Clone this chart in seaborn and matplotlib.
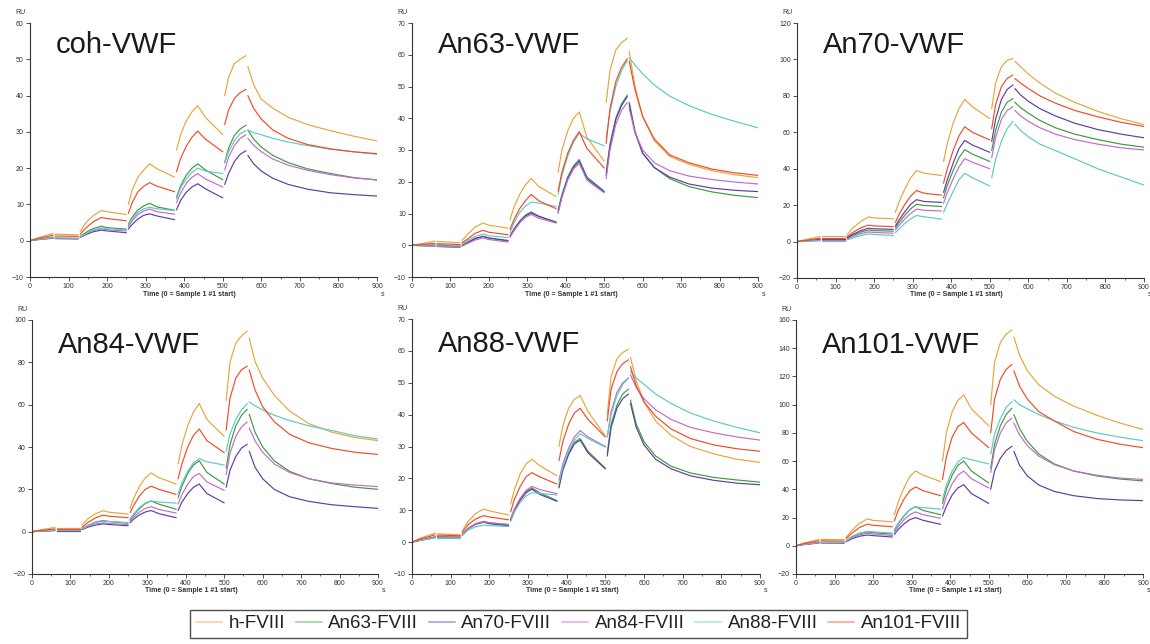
import numpy as np
import pandas as pd
import matplotlib
matplotlib.use("Agg")
import matplotlib.pyplot as plt
from matplotlib.lines import Line2D
from matplotlib.ticker import MultipleLocator
import seaborn as sns

# ---------------- data ----------------
T = [0, 20, 60, 65, 125, 130, 145, 165, 185, 200, 250, 255, 265, 280, 295, 310, 330, 375,
     380, 390, 405, 420, 435, 455, 500, 505, 515, 530, 545, 560,
     565, 580, 600, 630, 670, 720, 780, 840, 900]
SEG_STARTS = [65, 130, 255, 380, 505, 565]

SERIES = ["h-FVIII", "An63-FVIII", "An70-FVIII", "An84-FVIII", "An88-FVIII", "An101-FVIII"]
COLORS = ["#E9A53C", "#3E9B3E", "#5B3DA6", "#C46BC9", "#5FC9C3", "#F24B2A"]

PANELS = ["coh-VWF", "An63-VWF", "An70-VWF", "An84-VWF", "An88-VWF", "An101-VWF"]
YLIMS = [(-10, 60), (-10, 70), (-20, 120), (-20, 100), (-10, 70), (-20, 160)]
YSTEPS = [10, 10, 20, 20, 10, 20]

# coh-VWF
coh_h = [0, 0.8, 2.0, 1.8, 1.6, 2.5, 5, 7, 8.3, 8.0, 7.2, 10, 14, 17.5, 19.5, 21.2, 19.8, 17.5,
         25, 29, 33, 35.5, 37.2, 34, 29.2, 40, 45, 48.8, 50, 51, 48, 43, 39, 36.5, 34, 32, 30.3, 28.8, 27.5]
coh_63 = [0, 0.4, 1.0, 0.8, 0.8, 1.2, 2.3, 3.4, 4, 3.6, 3.2, 4.5, 6.5, 8.5, 9.6, 10.3, 9.3, 8.4,
          12, 15, 18, 20, 21.2, 19.5, 16.8, 21.5, 25.5, 29, 30.8, 31.8, 30.5, 28, 25.8, 23.5, 21.5, 19.8, 18.5, 17.4, 16.7]
coh_70 = [0, 0.3, 0.7, 0.6, 0.5, 0.9, 1.7, 2.5, 2.9, 2.7, 2.2, 3.2, 4.5, 6.0, 7.0, 7.4, 6.8, 5.8,
          8.5, 11, 13.3, 14.8, 15.7, 14.3, 11.8, 15.5, 18.5, 21.8, 23.8, 24.8, 23.5, 21.2, 19.2, 17.2, 15.5, 14.2, 13.2, 12.7, 12.3]
coh_84 = [0, 0.3, 0.8, 0.7, 0.6, 1.0, 2.0, 2.8, 3.3, 3.0, 2.7, 3.8, 5.5, 7.2, 8.2, 8.7, 8, 7.3,
          10.5, 13, 15.8, 17.5, 18.5, 17, 14.8, 19.5, 23, 26.2, 28.2, 29.2, 28.2, 26.3, 24.5, 22.5, 20.8, 19.4, 18.2, 17.3, 16.8]
coh_88 = [0, 0.4, 0.9, 0.8, 0.7, 1.0, 2.0, 3.0, 3.5, 3.3, 3.0, 4.2, 6, 7.8, 8.8, 9.2, 8.8, 8.3,
          11.5, 14.5, 17, 18.8, 20, 19.2, 18.5, 21.5, 24.5, 27.5, 29.5, 30.3, 30.5, 29.8, 29.2, 28.2, 27.2, 26.2, 25.2, 24.5, 23.8]
coh_101 = [0, 0.6, 1.5, 1.3, 1.2, 1.8, 3.5, 5.3, 6.4, 6.1, 5.5, 7.5, 10.5, 13.5, 15, 16, 15, 13.5,
           19, 22.5, 26, 28.5, 30.2, 28, 24.5, 32, 36, 39.2, 40.8, 41.7, 40, 36.5, 33.5, 30.5, 28.2, 26.5, 25.3, 24.5, 24]

# An63-VWF
a63_h = [0, 0.4, 1.3, 1.2, 0.8, 1.5, 3.5, 5.8, 7.0, 6.3, 5.4, 8, 12, 16, 19, 21, 18.5, 15.3,
         23, 30, 36, 40, 42, 34, 26.5, 45, 55, 61.5, 63.8, 65.2, 61, 50, 40.5, 33, 28, 25.5, 23.5, 22.2, 21.3]
a63_63 = [0, -0.2, -0.3, -0.4, -0.7, -0.3, 0.7, 2, 2.8, 2.2, 1.3, 2.8, 5, 7.5, 9.5, 10.5, 9.2, 7.2,
          11, 16, 21.5, 25, 27, 21.5, 17, 23, 32, 40, 44.5, 47.3, 45, 36, 29, 24.5, 21, 18.5, 16.8, 15.7, 15]
a63_70 = [0, 0.2, 0.2, 0.1, -0.3, 0.1, 1.0, 2.2, 2.8, 2.3, 1.5, 2.8, 5, 7.5, 9.2, 10.2, 9, 7.3,
          10.5, 15.5, 21, 24.5, 26.5, 21, 16.8, 22, 31, 39.5, 44, 46.8, 44.5, 35.5, 29, 24.5, 21.5, 19.3, 18, 17.3, 16.9]
a63_84 = [0, 0.0, -0.2, -0.3, -0.6, -0.2, 0.6, 1.7, 2.3, 1.8, 1.0, 2.5, 4.5, 7, 8.8, 9.7, 8.5, 7,
          10, 15, 20.5, 24, 25.8, 20.5, 16.5, 21, 30, 38, 42.5, 45, 43, 35.5, 30, 26, 23.5, 21.8, 20.7, 19.9, 19.3]
a63_88 = [0, 0.1, 0.3, 0.2, -0.2, 0.3, 1.5, 2.8, 3.5, 3.0, 2.4, 4, 7, 10.3, 12.3, 13.6, 13.3, 12.2,
          16, 22, 28, 32.5, 35.2, 33.5, 31.3, 34, 42, 50, 55, 58.2, 59, 56.8, 54, 50.5, 47, 44, 41.2, 39, 37]
a63_101 = [0, 0.2, 0.6, 0.5, 0.2, 0.8, 2, 3.8, 4.7, 4.1, 3.3, 5, 8, 11.5, 14, 16, 14, 11.5,
           17, 23, 29, 33, 35.8, 30.5, 24.3, 32, 43, 51.5, 56, 58.8, 58, 49, 40.5, 33.5, 28.5, 26, 24, 22.8, 22]

# An70-VWF
a70_h = [0, 1, 2.8, 2.8, 2.8, 4, 7.5, 11, 13.5, 13, 12.5, 16, 22, 29, 35, 39, 37.5, 36.3,
         44, 54, 65, 73, 78, 74, 67.5, 73, 87, 96, 99.5, 100.5, 99, 96, 92, 87, 81.5, 76.5, 71.5, 67.5, 64.2]
a70_63 = [0, 0.3, 1.0, 1.0, 1.0, 1.8, 3.5, 5.2, 6.3, 6, 5.7, 7.5, 10.5, 14.5, 18, 20.5, 19.8, 19.3,
          24, 31, 39, 46, 50.5, 48, 44, 50, 61, 71, 76.5, 78.5, 76.5, 73.5, 70.5, 66.5, 62.5, 59, 56, 53.5, 51.8]
a70_70 = [0, 0.4, 1.3, 1.3, 1.3, 2.2, 4, 6, 7.3, 7, 6.7, 8.5, 12, 16.5, 20.5, 23, 22, 21.5,
          27, 34, 43, 51, 55.5, 53, 49, 55, 67, 78, 83.5, 86, 84, 80.5, 77, 73, 69, 65, 61.5, 59, 57]
a70_84 = [0, 0.2, 0.7, 0.7, 0.7, 1.4, 2.8, 4.3, 5.3, 5, 4.6, 6.3, 9, 12.5, 15.5, 17.8, 17.2, 16.8,
          21, 27, 34.5, 41, 45.5, 43.5, 40, 46, 57, 67, 72, 74, 72, 69, 66, 62.5, 59, 56, 53.5, 51.5, 50.3]
a70_88 = [0, 0.1, 0.4, 0.4, 0.4, 0.9, 2, 3.3, 4.2, 3.9, 3.3, 4.8, 7, 10, 12.5, 14.3, 13.6, 12.3,
          16, 21, 27.5, 34, 37.5, 35, 30.5, 35, 45, 55, 62, 66, 64.5, 61, 57.5, 53.5, 50, 45.5, 40, 35.5, 31]
a70_101 = [0, 0.6, 1.8, 1.8, 1.8, 2.8, 5, 7.5, 9, 8.6, 8.2, 10.5, 15, 20.5, 25, 28, 26.5, 25.5,
           32, 40, 50, 58, 63, 60, 55.8, 62, 75, 85, 89.5, 91.5, 89.5, 87, 84, 80, 76, 72, 68.5, 65.5, 63.2]

# An84-VWF
a84_h = [0, 0.8, 2.0, 1.9, 1.9, 3, 6, 8.5, 9.9, 9.2, 8.3, 11, 16, 21.5, 25.5, 27.8, 25.5, 22.5,
         32, 41, 50, 56.5, 60.5, 53, 45, 62, 80, 89, 92.5, 94.8, 91.5, 80.5, 72.5, 64.5, 57, 51, 47, 44.5, 43]
a84_63 = [0, 0.3, 0.8, 0.8, 0.8, 1.3, 3, 4.5, 5.3, 4.8, 4, 5.5, 8, 11, 13.3, 14.5, 13, 10.6,
          16, 21.5, 27.5, 31.5, 33.5, 28, 22.5, 30, 41, 50, 55, 57.8, 55.5, 47, 40, 33.5, 28.5, 25, 22.7, 21, 20]
a84_70 = [0, 0.2, 0.5, 0.5, 0.5, 0.9, 2.1, 3.1, 3.7, 3.4, 2.8, 4.2, 6, 8, 9.3, 10, 8.5, 6.6,
          10, 14, 18, 21, 22.5, 18, 13.6, 21, 29, 35.5, 39.5, 41.3, 38, 30.5, 25, 20, 16.5, 14.3, 12.7, 11.8, 11]
a84_84 = [0, 0.2, 0.6, 0.6, 0.6, 1.1, 2.5, 3.6, 4.2, 3.9, 3.3, 5, 7, 9.3, 11, 11.8, 10.5, 8.8,
          13, 17.5, 22.5, 26, 27.5, 23.5, 19.5, 27, 37, 45, 49.5, 51.8, 49, 43, 37.5, 32, 28, 25, 23, 22, 21.3]
a84_88 = [0, 0.3, 0.8, 0.8, 0.8, 1.3, 2.8, 4.3, 5.0, 4.8, 4.3, 6, 8.5, 11.5, 13.5, 14.5, 14, 13.5,
          18, 23, 28.5, 32.5, 34.5, 33, 31.5, 38, 46, 53, 57.5, 60.5, 61.3, 59.5, 57.5, 55, 52.5, 50, 47.8, 45.3, 43.8]
a84_101 = [0, 0.5, 1.3, 1.2, 1.2, 2, 4.3, 6.5, 7.8, 7.3, 6.6, 9, 12.5, 17, 20, 21.5, 20, 17.6,
           25, 32, 40, 45.5, 48.5, 43, 37.3, 48, 63, 72.5, 76.5, 78.2, 76.5, 67, 59, 52, 46, 42, 39.3, 37.5, 36.5]

# An88-VWF
a88_h = [0, 1.2, 2.8, 2.6, 2.3, 3.5, 6.5, 9, 10.4, 9.8, 8.5, 12, 16.5, 21.5, 24.5, 26, 24, 20.8,
         30, 36.5, 42, 44.8, 46, 41, 33.3, 40, 52, 57.5, 59.5, 60.5, 58, 50.5, 44, 38, 33.5, 30, 27.7, 26, 25]
a88_63 = [0, 0.6, 1.7, 1.7, 1.6, 2.3, 4.3, 5.8, 6.5, 6.1, 5.3, 7, 10, 13.5, 15.8, 17, 15.5, 13,
          17.5, 23, 28, 31.3, 32.5, 28.5, 23.2, 28, 37, 43, 46.5, 48, 44.5, 37, 31.5, 27, 23.8, 21.7, 20.3, 19.5, 18.8]
a88_70 = [0, 0.5, 1.5, 1.5, 1.5, 2.2, 4.2, 5.6, 6.2, 5.8, 5.1, 6.8, 9.8, 13.2, 15.5, 16.6, 15, 12.8,
          17, 22.5, 27.5, 30.8, 32, 28, 23, 27, 36, 42, 45, 46.5, 43.5, 36, 30.5, 26, 23, 20.8, 19.4, 18.5, 18]
a88_84 = [0, 0.6, 1.6, 1.6, 1.6, 2.3, 4.3, 5.8, 6.3, 6.1, 5.6, 7.5, 10.5, 13.8, 16.2, 17.5, 16.5, 15.2,
          19.5, 24.5, 29.5, 33, 35, 33, 30, 33, 41, 47, 50, 51.5, 52.5, 48.5, 45, 41.5, 38.5, 36, 34.3, 33, 32]
a88_88 = [0, 0.5, 1.3, 1.3, 1.3, 2, 3.8, 4.8, 5.3, 5.2, 4.9, 6.5, 9.5, 12.5, 14.5, 15.5, 15.3, 14.8,
          18.5, 23.5, 28.5, 32, 34, 32.5, 29.8, 33, 40, 46, 49.5, 51.5, 53.5, 51.5, 49.5, 46.5, 43.5, 40.5, 38, 36, 34.3]
a88_101 = [0, 0.9, 2.3, 2.2, 2, 3, 5.5, 7.3, 8.3, 7.9, 7.0, 9.5, 13.5, 17.5, 20.5, 21.8, 20.5, 18.2,
           25.5, 31.5, 37, 40.5, 42, 38.5, 33, 38, 48, 53.5, 56, 57.2, 55, 49, 44, 39.5, 35.5, 32.5, 30.5, 29.3, 28.5]

# An101-VWF
a101_h = [0, 2, 4.5, 4.5, 4.3, 6, 11, 16, 19, 18, 17, 22, 31, 41, 49, 53, 50, 45.5,
          60, 80, 95, 103, 107, 97, 85, 100, 130, 144, 150, 153, 148, 135, 124, 114, 106, 99, 92.5, 87, 82.5]
a101_63 = [0, 1, 2.5, 2.5, 2.4, 3.5, 6.5, 8.7, 9.8, 9.3, 8.3, 10.8, 15.5, 21, 25.5, 27.7, 25, 22,
           30, 40, 50, 57, 60, 53, 44.5, 55, 72, 85, 93, 97.5, 93, 83, 74, 65, 58, 53, 49.5, 47.3, 46]
a101_70 = [0, 0.8, 2, 2, 1.8, 2.8, 5, 6.8, 7.6, 7.2, 6.2, 8, 11.5, 15.5, 18.5, 20, 18, 15.2,
           21, 28, 36, 41, 43.3, 37, 30, 40, 53, 62, 67.5, 70.5, 67, 57, 49.5, 43, 38.5, 35.5, 33.5, 32.5, 32]
a101_84 = [0, 0.9, 2.2, 2.2, 2.1, 3.1, 5.8, 7.8, 8.8, 8.4, 7.3, 9.5, 13.5, 18.5, 22, 24, 22, 19.5,
           26, 35, 44, 50, 53, 47.5, 41, 52, 68, 80, 87, 90.5, 87, 78.5, 71, 63.5, 57.5, 53, 50, 48, 47]
a101_88 = [0, 1, 2.5, 2.5, 2.5, 3.5, 6.5, 9, 10.2, 9.9, 9, 11.5, 16, 21.5, 25.5, 27.5, 27, 26,
           33, 43, 53, 59.5, 62.5, 61, 58, 65, 79, 90, 98, 102, 103.5, 100, 97, 93, 88.5, 84, 80, 77, 74.5]
a101_101 = [0, 1.5, 3.5, 3.5, 3.3, 5, 9, 13, 15.3, 14.5, 13.5, 17.5, 25, 33, 39, 41.7, 39, 35.5,
            47, 63, 77, 84.5, 87.3, 80, 69.5, 80, 104, 118, 125, 128.5, 124, 113, 104, 95, 88.5, 81, 75.5, 72, 69.5]

PANEL_DATA = [
    [coh_h, coh_63, coh_70, coh_84, coh_88, coh_101],
    [a63_h, a63_63, a63_70, a63_84, a63_88, a63_101],
    [a70_h, a70_63, a70_70, a70_84, a70_88, a70_101],
    [a84_h, a84_63, a84_70, a84_84, a84_88, a84_101],
    [a88_h, a88_63, a88_70, a88_84, a88_88, a88_101],
    [a101_h, a101_63, a101_70, a101_84, a101_88, a101_101],
]

# ---------------- styling ----------------
sns.set_style("ticks")
plt.rcParams["font.family"] = ["Liberation Sans", "DejaVu Sans"]

W, H = 1150, 644
fig = plt.figure(figsize=(W / 100, H / 100), dpi=100)
fig.patch.set_facecolor("white")

# axes boxes in pixels: (left, top, right, bottom)
BOXES = [(30, 23, 377, 277), (412, 23, 758, 277), (797, 23, 1144, 278),
         (32, 320, 378, 574), (412, 319, 760, 574), (796, 320, 1143, 574)]

seg_ids = np.cumsum([1 if t in SEG_STARTS else 0 for t in T])
palette = dict(zip(SERIES, COLORS))

for i, (name, box) in enumerate(zip(PANELS, BOXES)):
    l, t, r, b = box
    ax = fig.add_axes([l / W, (H - b) / H, (r - l) / W, (b - t) / H])
    rows = []
    for s, vals in zip(SERIES, PANEL_DATA[i]):
        for tt, v, sg in zip(T, vals, seg_ids):
            rows.append({"t": tt, "RU": v, "series": s, "seg": f"{s}_{sg}"})
    df = pd.DataFrame(rows)
    sns.lineplot(data=df, x="t", y="RU", hue="series", units="seg", estimator=None,
                 palette=palette, hue_order=SERIES, sort=False, linewidth=0.85,
                 legend=False, ax=ax)
    ax.set_xlim(0, 900)
    ax.set_ylim(*YLIMS[i])
    ax.xaxis.set_major_locator(MultipleLocator(100))
    ax.xaxis.set_minor_locator(MultipleLocator(50))
    ax.yaxis.set_major_locator(MultipleLocator(YSTEPS[i]))
    ax.set_xlabel("")
    ax.set_ylabel("")
    for sp in ["top", "right"]:
        ax.spines[sp].set_visible(False)
    for sp in ["left", "bottom"]:
        ax.spines[sp].set_color("#333333")
        ax.spines[sp].set_linewidth(0.8)
    ax.tick_params(axis="both", which="major", labelsize=5, length=3, width=0.6,
                   color="#333333", pad=1.5, labelcolor="#333333")
    ax.tick_params(axis="x", which="minor", length=1.5, width=0.5, color="#333333")
    ax.set_facecolor("white")

    ax.text(0.075, 0.915 if i < 3 else 0.90, name, transform=ax.transAxes,
            fontsize=21, color="#1a1a1a", va="center", ha="left")
    ax.annotate("RU", xy=(0, 1), xycoords="axes fraction", xytext=(-15, 10),
                textcoords="offset pixels", fontsize=5, color="#333333", va="center", ha="left")
    ax.annotate("Time (0 = Sample 1 #1 start)", xy=(0.46, 0), xycoords="axes fraction",
                xytext=(0, -17), textcoords="offset pixels", fontsize=5, fontweight="bold",
                color="#333333", va="center", ha="center")
    ax.annotate("s", xy=(1, 0), xycoords="axes fraction", xytext=(6, -17),
                textcoords="offset pixels", fontsize=5, color="#333333", va="center", ha="center")

handles = [Line2D([0], [0], color=c, lw=1.5, alpha=0.4) for c in COLORS]
leg = fig.legend(handles, SERIES, loc="center", bbox_to_anchor=(0.503, 0.0315), ncol=6,
                 fontsize=13.5, frameon=True, fancybox=False, edgecolor="#222222",
                 handlelength=1.4, handletextpad=0.35, columnspacing=0.55, borderpad=0.3)
leg.get_frame().set_linewidth(1.0)
for txt in leg.get_texts():
    txt.set_color("#222222")

fig.savefig("out.png", dpi=100, facecolor="white")
